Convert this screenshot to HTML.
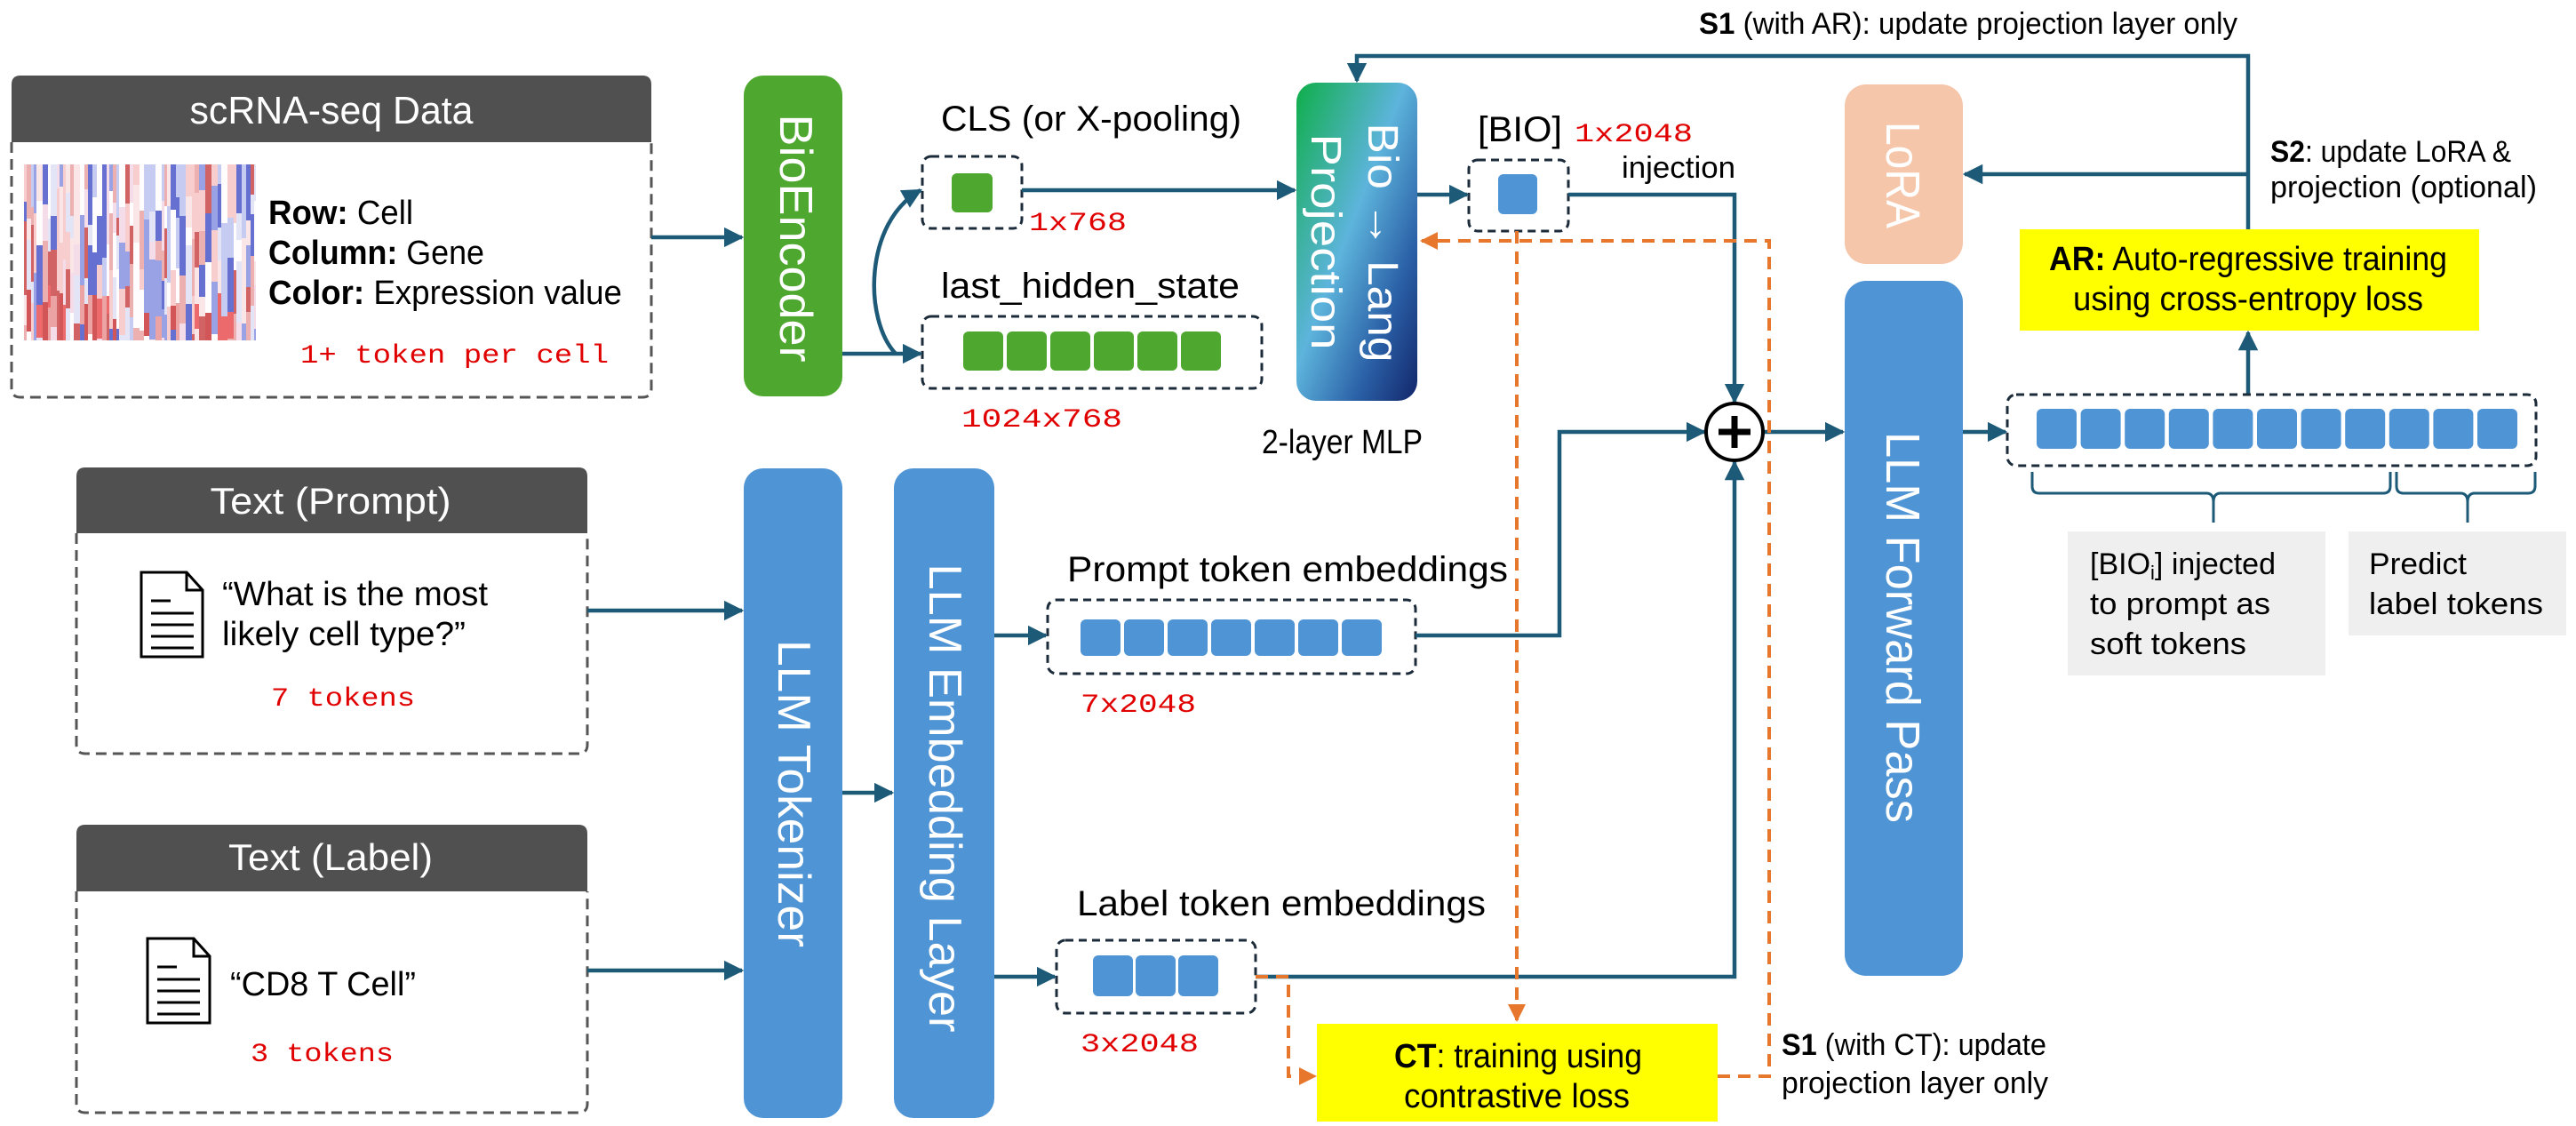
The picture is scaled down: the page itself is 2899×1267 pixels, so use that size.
<!DOCTYPE html>
<html><head><meta charset="utf-8"><style>
html,body{margin:0;padding:0;background:#fff;}
svg{display:block;}
text{font-family:"Liberation Sans Narrow","Liberation Sans",sans-serif;}
.w{font-family:"Liberation Sans",sans-serif;fill:#fff;}
.m{font-family:"Liberation Mono",monospace;fill:#e00000;}
</style></head><body>
<svg id="s" width="2899" height="1267" viewBox="0 0 2899 1267" xmlns="http://www.w3.org/2000/svg">
<defs>
<marker id="a" viewBox="0 0 10 10" refX="9" refY="5" markerWidth="5" markerHeight="5" orient="auto" markerUnits="strokeWidth"><path d="M0,0 L10,5 L0,10 z" fill="#1d5a78"/></marker>
<marker id="o" viewBox="0 0 10 10" refX="9" refY="5" markerWidth="5" markerHeight="5" orient="auto" markerUnits="strokeWidth"><path d="M0,0 L10,5 L0,10 z" fill="#e8772e"/></marker>
<linearGradient id="g" x1="0" y1="0" x2="1" y2="1">
<stop offset="0" stop-color="#0fae4a"/><stop offset="0.45" stop-color="#5db4dc"/><stop offset="0.75" stop-color="#2a5fa6"/><stop offset="1" stop-color="#13266a"/></linearGradient>
</defs>

<path d="M13,160 V437 Q13,447 23,447 H723 Q733,447 733,437 V160" fill="none" stroke="#555" stroke-width="3" stroke-dasharray="12 7"/>
<path d="M13,160 V95 Q13,85 23,85 H723 Q733,85 733,95 V160 Z" fill="#505050"/>
<text x="373" y="139" font-size="44" fill="#fff" text-anchor="middle" textLength="319" lengthAdjust="spacingAndGlyphs">scRNA-seq Data</text>
<g id="hm"><rect x="27" y="185" width="261" height="198" fill="#f7eef2"/></g>
<text x="302" y="252" font-size="38" textLength="163" lengthAdjust="spacingAndGlyphs"><tspan font-weight="bold">Row:</tspan> Cell</text>
<text x="302" y="297" font-size="38" textLength="243" lengthAdjust="spacingAndGlyphs"><tspan font-weight="bold">Column:</tspan> Gene</text>
<text x="302" y="342" font-size="38" textLength="398" lengthAdjust="spacingAndGlyphs"><tspan font-weight="bold">Color:</tspan> Expression value</text>
<text class="m" x="338" y="408" font-size="30" textLength="347" lengthAdjust="spacingAndGlyphs">1+ token per cell</text>

<path d="M86,600 V838 Q86,848 96,848 H651 Q661,848 661,838 V600" fill="none" stroke="#555" stroke-width="3" stroke-dasharray="12 7"/>
<path d="M86,600 V536 Q86,526 96,526 H651 Q661,526 661,536 V600 Z" fill="#505050"/>
<text x="372" y="578" font-size="42" fill="#fff" text-anchor="middle" textLength="271" lengthAdjust="spacingAndGlyphs">Text (Prompt)</text>
<g fill="#fff" stroke="#000" stroke-width="3"><path d="M159,644 H210 L228,664 V739 H159 Z"/><path d="M210,644 V664 H228" fill="none"/></g>
<g stroke="#000" stroke-width="3"><line x1="170" y1="676" x2="192" y2="676"/><line x1="170" y1="690" x2="218" y2="690"/><line x1="170" y1="703" x2="218" y2="703"/><line x1="170" y1="716" x2="218" y2="716"/><line x1="170" y1="729" x2="218" y2="729"/></g>
<text x="250" y="681" font-size="38" textLength="299" lengthAdjust="spacingAndGlyphs">“What is the most</text>
<text x="250" y="726" font-size="38" textLength="274" lengthAdjust="spacingAndGlyphs">likely cell type?”</text>
<text class="m" x="305" y="794" font-size="30" textLength="162" lengthAdjust="spacingAndGlyphs">7 tokens</text>

<path d="M86,1003 V1242 Q86,1252 96,1252 H651 Q661,1252 661,1242 V1003" fill="none" stroke="#555" stroke-width="3" stroke-dasharray="12 7"/>
<path d="M86,1003 V938 Q86,928 96,928 H651 Q661,928 661,938 V1003 Z" fill="#505050"/>
<text x="372" y="979" font-size="42" fill="#fff" text-anchor="middle" textLength="230" lengthAdjust="spacingAndGlyphs">Text (Label)</text>
<g fill="#fff" stroke="#000" stroke-width="3"><path d="M166,1056 H218 L236,1076 V1151 H166 Z"/><path d="M218,1056 V1076 H236" fill="none"/></g>
<g stroke="#000" stroke-width="3"><line x1="177" y1="1088" x2="199" y2="1088"/><line x1="177" y1="1102" x2="225" y2="1102"/><line x1="177" y1="1115" x2="225" y2="1115"/><line x1="177" y1="1128" x2="225" y2="1128"/><line x1="177" y1="1141" x2="225" y2="1141"/></g>
<text x="259" y="1120" font-size="38" textLength="209" lengthAdjust="spacingAndGlyphs">“CD8 T Cell”</text>
<text class="m" x="282" y="1194" font-size="30" textLength="161" lengthAdjust="spacingAndGlyphs">3 tokens</text>

<rect x="837" y="85" width="111" height="361" rx="22" fill="#4ea72e"/>
<text class="w" transform="translate(878,268) rotate(90)" font-size="52" text-anchor="middle" textLength="279" lengthAdjust="spacingAndGlyphs">BioEncoder</text>
<rect x="837" y="527" width="111" height="731" rx="22" fill="#4f94d4"/>
<text class="w" transform="translate(876,893) rotate(90)" font-size="52" text-anchor="middle" textLength="346" lengthAdjust="spacingAndGlyphs">LLM Tokenizer</text>
<rect x="1006" y="527" width="113" height="731" rx="22" fill="#4f94d4"/>
<text class="w" transform="translate(1046,898) rotate(90)" font-size="52" text-anchor="middle" textLength="527" lengthAdjust="spacingAndGlyphs">LLM Embedding Layer</text>
<rect x="2076" y="95" width="133" height="202" rx="24" fill="#f6c6aa"/>
<text class="w" transform="translate(2123,197) rotate(90)" font-size="54" text-anchor="middle" textLength="120" lengthAdjust="spacingAndGlyphs">LoRA</text>
<rect x="2076" y="316" width="133" height="782" rx="24" fill="#4f94d4"/>
<text class="w" transform="translate(2123,706) rotate(90)" font-size="54" text-anchor="middle" textLength="440" lengthAdjust="spacingAndGlyphs">LLM Forward Pass</text>
<rect x="1459" y="93" width="136" height="358" rx="22" fill="url(#g)"/>
<text class="w" transform="translate(1540,273) rotate(90)" font-size="48" text-anchor="middle" textLength="269" lengthAdjust="spacingAndGlyphs">Bio → Lang</text>
<text class="w" transform="translate(1476,272) rotate(90)" font-size="48" text-anchor="middle" textLength="243" lengthAdjust="spacingAndGlyphs">Projection</text>
<text x="1420" y="510" font-size="38" textLength="181" lengthAdjust="spacingAndGlyphs">2-layer MLP</text>

<text x="1059" y="147" font-size="40" textLength="338" lengthAdjust="spacingAndGlyphs">CLS (or X-pooling)</text>
<rect x="1038" y="176" width="112" height="81" rx="10" fill="none" stroke="#1c2b3a" stroke-width="3" stroke-dasharray="9 6"/>
<rect x="1071" y="195" width="46" height="44" rx="6" fill="#4ea72e"/>
<text class="m" x="1158" y="259" font-size="30" textLength="110" lengthAdjust="spacingAndGlyphs">1x768</text>
<text x="1059" y="335" font-size="40" textLength="336" lengthAdjust="spacingAndGlyphs">last_hidden_state</text>
<rect x="1038" y="356" width="382" height="81" rx="10" fill="none" stroke="#1c2b3a" stroke-width="3" stroke-dasharray="9 6"/>
<g fill="#4ea72e"><rect x="1084" y="373" width="45" height="44" rx="6"/><rect x="1133" y="373" width="45" height="44" rx="6"/><rect x="1182" y="373" width="45" height="44" rx="6"/><rect x="1231" y="373" width="45" height="44" rx="6"/><rect x="1280" y="373" width="45" height="44" rx="6"/><rect x="1329" y="373" width="45" height="44" rx="6"/></g>
<text class="m" x="1082" y="480" font-size="30" textLength="181" lengthAdjust="spacingAndGlyphs">1024x768</text>

<text x="1663" y="159" font-size="40" textLength="95" lengthAdjust="spacingAndGlyphs">[BIO]</text>
<text class="m" x="1772" y="159" font-size="30" textLength="133" lengthAdjust="spacingAndGlyphs">1x2048</text>
<text x="1825" y="200" font-size="34" textLength="128" lengthAdjust="spacingAndGlyphs">injection</text>
<rect x="1653" y="180" width="112" height="80" rx="10" fill="none" stroke="#1c2b3a" stroke-width="3" stroke-dasharray="9 6"/>
<rect x="1686" y="196" width="44" height="45" rx="6" fill="#4f94d4"/>

<text x="1201" y="654" font-size="40" textLength="496" lengthAdjust="spacingAndGlyphs">Prompt token embeddings</text>
<rect x="1179" y="675" width="414" height="83" rx="10" fill="none" stroke="#1c2b3a" stroke-width="3" stroke-dasharray="9 6"/>
<g fill="#4f94d4"><rect x="1216" y="697" width="45" height="41" rx="6"/><rect x="1265" y="697" width="45" height="41" rx="6"/><rect x="1314" y="697" width="45" height="41" rx="6"/><rect x="1363" y="697" width="45" height="41" rx="6"/><rect x="1412" y="697" width="45" height="41" rx="6"/><rect x="1461" y="697" width="45" height="41" rx="6"/><rect x="1510" y="697" width="45" height="41" rx="6"/></g>
<text class="m" x="1216" y="801" font-size="30" textLength="130" lengthAdjust="spacingAndGlyphs">7x2048</text>
<text x="1212" y="1030" font-size="40" textLength="460" lengthAdjust="spacingAndGlyphs">Label token embeddings</text>
<rect x="1189" y="1058" width="224" height="82" rx="10" fill="none" stroke="#1c2b3a" stroke-width="3" stroke-dasharray="9 6"/>
<g fill="#4f94d4"><rect x="1230" y="1075" width="45" height="46" rx="6"/><rect x="1278" y="1075" width="45" height="46" rx="6"/><rect x="1326" y="1075" width="45" height="46" rx="6"/></g>
<text class="m" x="1216" y="1183" font-size="30" textLength="133" lengthAdjust="spacingAndGlyphs">3x2048</text>

<g fill="none" stroke="#1d5a78" stroke-width="4.5">
<path d="M733,267 H835" marker-end="url(#a)"/>
<path d="M948,398 H1036" marker-end="url(#a)"/>
<path d="M1008,398 C972,360 972,250 1036,214" marker-end="url(#a)"/>
<path d="M1150,214 H1457" marker-end="url(#a)"/>
<path d="M1595,219 H1651" marker-end="url(#a)"/>
<path d="M1765,219 H1952 V452" marker-end="url(#a)"/>
<path d="M2530,258 V63 H1527 V91" marker-end="url(#a)"/>
<path d="M2530,196 H2211" marker-end="url(#a)"/>
<path d="M2530,444 V374" marker-end="url(#a)"/>
<path d="M1985,486 H2074" marker-end="url(#a)"/>
<path d="M2209,486 H2257" marker-end="url(#a)"/>
<path d="M1593,715 H1755 V486 H1918" marker-end="url(#a)"/>
<path d="M1413,1099 H1952 V520" marker-end="url(#a)"/>
<path d="M661,687 H835" marker-end="url(#a)"/>
<path d="M661,1092 H835" marker-end="url(#a)"/>
<path d="M948,892 H1004" marker-end="url(#a)"/>
<path d="M1119,715 H1177" marker-end="url(#a)"/>
<path d="M1119,1099 H1187" marker-end="url(#a)"/>
</g>
<circle cx="1952" cy="486" r="32" fill="#fff" stroke="#000" stroke-width="4"/>
<path d="M1952,468 V504 M1934,486 H1970" stroke="#000" stroke-width="7"/>

<g fill="none" stroke="#e8772e" stroke-width="4" stroke-dasharray="14 9">
<path d="M1707,260 V1148" marker-end="url(#o)"/>
<path d="M1933,1211 H1991 V271 H1600" marker-end="url(#o)"/>
<path d="M1413,1099 H1450 V1211 H1480" marker-end="url(#o)"/>
</g>

<rect x="1482" y="1152" width="451" height="110" fill="#ffff00"/>
<text x="1569" y="1201" font-size="38" textLength="279" lengthAdjust="spacingAndGlyphs"><tspan font-weight="bold">CT</tspan>: training using</text>
<text x="1580" y="1246" font-size="38" textLength="254" lengthAdjust="spacingAndGlyphs">contrastive loss</text>
<text x="2005" y="1187" font-size="34" textLength="298" lengthAdjust="spacingAndGlyphs"><tspan font-weight="bold">S1</tspan> (with CT): update</text>
<text x="2005" y="1230" font-size="34" textLength="300" lengthAdjust="spacingAndGlyphs">projection layer only</text>

<text x="1912" y="38" font-size="34" textLength="606" lengthAdjust="spacingAndGlyphs"><tspan font-weight="bold">S1</tspan> (with AR): update projection layer only</text>
<text x="2555" y="182" font-size="34" textLength="271" lengthAdjust="spacingAndGlyphs"><tspan font-weight="bold">S2</tspan>: update LoRA &amp;</text>
<text x="2555" y="222" font-size="34" textLength="300" lengthAdjust="spacingAndGlyphs">projection (optional)</text>
<rect x="2273" y="258" width="517" height="114" fill="#ffff00"/>
<text x="2306" y="304" font-size="38" textLength="448" lengthAdjust="spacingAndGlyphs"><tspan font-weight="bold">AR:</tspan> Auto-regressive training</text>
<text x="2333" y="349" font-size="38" textLength="394" lengthAdjust="spacingAndGlyphs">using cross-entropy loss</text>

<rect x="2259" y="444" width="595" height="80" rx="10" fill="none" stroke="#1c2b3a" stroke-width="3" stroke-dasharray="9 6"/>
<g id="oc" fill="#4f94d4"></g>
<path d="M2287,531 V547 Q2287,555 2295,555 H2483 Q2491,555 2491,565 V588 M2491,565 Q2491,555 2499,555 H2682 Q2690,555 2690,547 V531" fill="none" stroke="#1d5a78" stroke-width="3"/>
<path d="M2697,531 V547 Q2697,555 2705,555 H2769 Q2777,555 2777,565 V588 M2777,565 Q2777,555 2785,555 H2845 Q2853,555 2853,547 V531" fill="none" stroke="#1d5a78" stroke-width="3"/>
<rect x="2327" y="598" width="290" height="162" fill="#efefef"/>
<rect x="2643" y="598" width="245" height="117" fill="#efefef"/>
<text x="2352" y="646" font-size="34">[BIO<tspan font-size="22" dy="6">i</tspan><tspan dy="-6">] injected</tspan></text>
<text x="2352" y="691" font-size="34" textLength="203" lengthAdjust="spacingAndGlyphs">to prompt as</text>
<text x="2352" y="736" font-size="34" textLength="176" lengthAdjust="spacingAndGlyphs">soft tokens</text>
<text x="2666" y="646" font-size="34" textLength="110" lengthAdjust="spacingAndGlyphs">Predict</text>
<text x="2666" y="691" font-size="34" textLength="196" lengthAdjust="spacingAndGlyphs">label tokens</text>
</svg>
<script>
(function(){
var NS="http://www.w3.org/2000/svg";
var oc=document.getElementById("oc");
for(var i=0;i<11;i++){var r=document.createElementNS(NS,"rect");r.setAttribute("x",2292+i*49.6);r.setAttribute("y",460);r.setAttribute("width",45);r.setAttribute("height",45);r.setAttribute("rx",6);oc.appendChild(r);}
var hm=document.getElementById("hm");var seed=11;
function rnd(){seed=(seed*16807)%2147483647;return seed/2147483647;}
var cols=["#ffffff","#ffffff","#fbe3e3","#f6c4c4","#e9a0a0","#c84040","#dde2f8","#b8c2f0","#7f8fe0","#4050c8","#f3d8e6"];
var x=27;
while(x<288){var w=3+Math.floor(rnd()*5);if(x+w>288)w=288-x;var y=185;
 while(y<383){var h=20+Math.floor(rnd()*50);if(y+h>383)h=383-y;
  var c=cols[Math.floor(rnd()*cols.length)];
  if(y>320&&y<360&&rnd()<0.35)c=["#c83030","#e84848","#e89090"][Math.floor(rnd()*3)];
  var r=document.createElementNS(NS,"rect");r.setAttribute("x",x);r.setAttribute("y",y);r.setAttribute("width",w);r.setAttribute("height",h);r.setAttribute("fill",c);r.setAttribute("opacity",0.8);hm.appendChild(r);y+=h;}
 x+=w;}
})();
</script>
</body></html>
